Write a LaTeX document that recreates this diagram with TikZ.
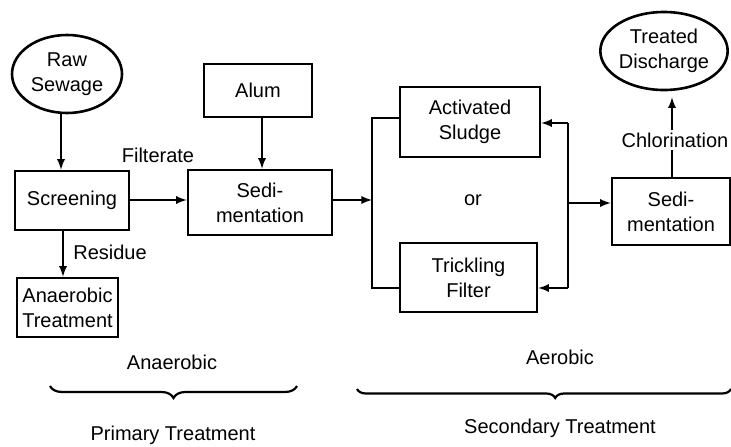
\documentclass[tikz,border=0pt]{standalone}
\usepackage{fontspec}
\setmainfont{Liberation Sans}
\usepackage{tikz}
\usetikzlibrary{arrows,shapes,decorations.pathreplacing}

\begin{document}
\begin{tikzpicture}[x=1pt,y=-1pt]
    \tikzset{vertex/.style = {shape=rectangle,draw,line width=2.6pt,align=center,inner sep=0pt,font=\fontsize{20}{25}\selectfont}}
    \tikzset{blob/.style = {shape=ellipse,draw,line width=2.6pt,align=center,inner sep=0pt,font=\fontsize{20}{25}\selectfont}}
    \tikzset{label/.style = {align=center,inner sep=2pt,font=\fontsize{20}{25}\selectfont}}
    \tikzset{edge/.style = {-latex,line width=2.6pt}}
    \tikzset{wire/.style = {line width=2.6pt}}
    \tikzset{brace/.style = {decorate,decoration={brace,mirror,amplitude=12pt},line width=2.2pt}}
    \useasboundingbox (0,0) rectangle (731,447);
    % vertices
    \node[blob,minimum width=110pt,minimum height=78pt] (raw) at (67,74) {Raw\\Sewage};
    \node[vertex,minimum width=114pt,minimum height=59pt] (screen) at (72,200.5) {Screening};
    \node[vertex,minimum width=101pt,minimum height=59pt] (anaer) at (67.5,307.5) {Anaerobic\\Treatment};
    \node[vertex,minimum width=108pt,minimum height=53pt] (alum) at (258,90.5) {Alum};
    \node[vertex,minimum width=144pt,minimum height=65pt] (sedA) at (260,202.5) {Sedi-\\mentation};
    \node[vertex,minimum width=140pt,minimum height=70pt] (act) at (470,122) {Activated\\Sludge};
    \node[vertex,minimum width=137pt,minimum height=69pt] (trick) at (468.5,277.5) {Trickling\\Filter};
    \node[vertex,minimum width=118pt,minimum height=67pt] (sedB) at (671,211.5) {Sedi-\\mentation};
    \node[blob,minimum width=126pt,minimum height=78pt] (treated) at (664,51) {Treated\\Discharge};
    % labels
    \node[label] (or) at (473,200) {or};
    \node[label] (filt) at (158,155) {Filterate};
    \node[label] (resid) at (110,252) {Residue};
    \node[label] (chl) at (675,140) {Chlorination};
    \node[label] (anaerobic) at (172,362) {Anaerobic};
    \node[label] (primary) at (173,435) {Primary Treatment};
    \node[label] (aerobic) at (560,357) {Aerobic};
    \node[label] (secondary) at (560,428) {Secondary Treatment};
    % junctions
    \coordinate (lt) at (372,118);
    \coordinate (lm) at (372,200);
    \coordinate (lb) at (372,288);
    \coordinate (rt) at (568,123);
    \coordinate (rm) at (568,203);
    \coordinate (rb) at (568,288);
    % edges
    \draw[edge] (raw.south -| 61,0) -- (screen.north -| 61,0);
    \draw[edge] (screen.east |- 0,200) -- (sedA.west |- 0,200);
    \draw[edge] (alum.south -| 262,0) -- (sedA.north -| 262,0);
    \draw[edge] (screen.south -| 63,0) -- (anaer.north -| 63,0);
    \draw[edge] (sedA.east |- lm) -- (lm);
    \draw[wire] (act.west |- lt) -- (lt) -- (lb) -- (trick.west |- lb);
    \draw[wire] (rt) -- (rb);
    \draw[edge] (rt) -- (act.east |- rt);
    \draw[edge] (rb) -- (trick.east |- rb);
    \draw[edge] (rm) -- (sedB.west |- rm);
    \draw[wire] (sedB.north -| 672,0) -- (chl.south -| 672,0);
    \draw[edge,shorten >=6pt] (chl.north -| 672,0) -- (treated.south -| 672,0);
    % braces
    \draw[brace] (50,386) -- (297,386);
    \draw[brace,decoration={aspect=0.53,amplitude=9pt}] (357,389) -- (731,389);
\end{tikzpicture}
\end{document}
